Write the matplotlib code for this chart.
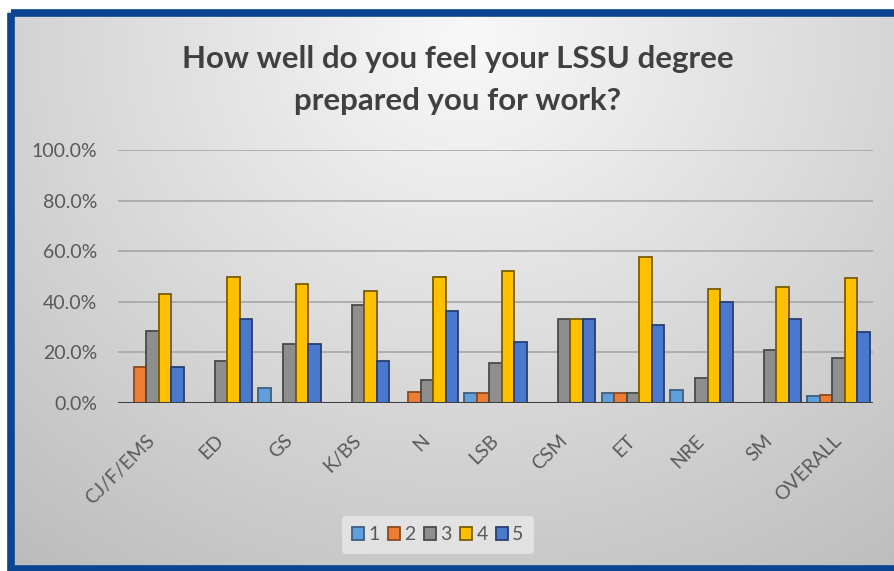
import numpy as np
import matplotlib
matplotlib.use("Agg")
import matplotlib.pyplot as plt
from matplotlib.patches import Rectangle

plt.rcParams['font.family'] = ['Lato', 'DejaVu Sans']

categories = ["CJ/F/EMS", "ED", "GS", "K/BS", "N", "LSB", "CSM", "ET", "NRE", "SM", "OVERALL"]
series_names = ["1", "2", "3", "4", "5"]
s1 = [0.0, 0.0, 0.059, 0.0, 0.0, 0.04, 0.0, 0.038, 0.05, 0.0, 0.026]
s2 = [0.143, 0.0, 0.0, 0.0, 0.045, 0.04, 0.0, 0.038, 0.0, 0.0, 0.032]
s3 = [0.286, 0.167, 0.235, 0.389, 0.091, 0.16, 0.333, 0.038, 0.10, 0.208, 0.176]
s4 = [0.429, 0.50, 0.471, 0.444, 0.50, 0.52, 0.333, 0.577, 0.45, 0.458, 0.494]
s5 = [0.143, 0.333, 0.235, 0.167, 0.364, 0.24, 0.333, 0.308, 0.40, 0.333, 0.279]
yticks = [0.0, 0.2, 0.4, 0.6, 0.8, 1.0]
title = "How well do you feel your LSSU degree\nprepared you for work?"

fills = ["#5fa0dc", "#ed7d31", "#8e8e8e", "#ffc000", "#4a78cc"]
edges = ["#3c5f80", "#8a4a20", "#4a4a4a", "#7a5c00", "#253f70"]

W, H = 894, 571
fig = plt.figure(figsize=(W / 100, H / 100), dpi=100)

# background gradient
bg = fig.add_axes([0, 0, 1, 1], zorder=-10)
yy, xx = np.mgrid[0:H, 0:W]
d = np.sqrt(((xx - 470) / 620.0) ** 2 + ((yy - 40) / 560.0) ** 2)
val = 0.975 - 0.2 * np.clip(d, 0, 1.2)
img = np.dstack([val, val, val])
bg.imshow(img, extent=[0, W, H, 0], aspect='auto', interpolation='bilinear')
bg.set_xlim(0, W)
bg.set_ylim(H, 0)
bg.axis('off')
bg.add_patch(Rectangle((0, 0), W, 10, color='white', zorder=2))
bg.add_patch(Rectangle((0, 0), 7, H, color='white', zorder=2))
bg.add_patch(Rectangle((10.5, 12.5), W + 20, H - 15, fill=False,
                       edgecolor='#0b4490', linewidth=5.5, zorder=3))

left, right, top, bottom = 118, 873, 150, 403
ax = fig.add_axes([left / W, 1 - bottom / H, (right - left) / W, (bottom - top) / H])
ax.set_facecolor('none')

x = np.arange(len(categories))
w = 0.182
for i, (vals, name) in enumerate(zip([s1, s2, s3, s4, s5], series_names)):
    ax.bar(x + (i - 2) * w, vals, width=w, color=fills[i], edgecolor=edges[i],
           linewidth=1.3, label=name, zorder=3)

ax.set_xlim(-0.5, len(categories) - 0.5)
ax.set_ylim(0, 1.0)
ax.set_yticks(yticks)
ax.set_yticklabels([f"{v * 100:.1f}%" for v in yticks])
ax.yaxis.grid(True, color='#a6a6a6', linewidth=1.2, zorder=0)
ax.set_axisbelow(True)
ax.axhline(0, color='#404040', linewidth=2.2, zorder=5)
for s in ax.spines.values():
    s.set_visible(False)
ax.tick_params(axis='y', length=0, pad=15, labelsize=14, labelcolor='#595959')
ax.tick_params(axis='x', length=0, pad=25, labelsize=14, labelcolor='#595959')
ax.set_xticks(x)
ax.set_xticklabels(categories, rotation=45, ha='right', va='center', rotation_mode='anchor')

fig.text(458 / W, 1 - 80 / H, title, ha='center', va='center', fontsize=22.5,
         fontweight='bold', color='#404040', linespacing=1.6)

leg = fig.legend(loc='center', bbox_to_anchor=(438 / W, 1 - 535 / H), ncol=5,
                 frameon=True, fontsize=14, handlelength=0.62, handleheight=0.62,
                 handletextpad=0.2, columnspacing=0.45, borderpad=0.55)
leg.get_frame().set_facecolor('#e8e8e8')
leg.get_frame().set_edgecolor('none')
leg.get_frame().set_alpha(0.8)
for t in leg.get_texts():
    t.set_color('#595959')

fig.savefig("out.png", dpi=100)
